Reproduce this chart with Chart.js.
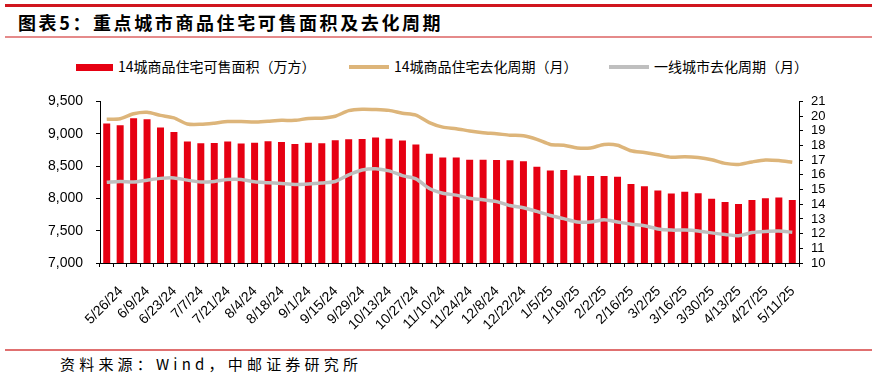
<!DOCTYPE html>
<html>
<head>
<meta charset="utf-8">
<script src="https://cdn.jsdelivr.net/npm/chart.js@4"></script>
<style>
  html, body { margin: 0; padding: 0; background: #fff; }
  #wrap { position: relative; width: 877px; height: 385px; overflow: hidden; font-family: "Noto Sans CJK SC", sans-serif; }
  .rule { position: absolute; left: 5px; width: 867px; }
  #title { position: absolute; left: 18px; top: 9px; font-size: 18px; font-weight: bold; letter-spacing: 2.6px; color: #000; line-height: 26px; }
  #legend { position: absolute; top: 56px; left: 0; width: 877px; height: 20px; font-size: 14px; color: #000; }
  .lg { position: absolute; top: 0; line-height: 20px; white-space: nowrap; }
  .sw { display: inline-block; vertical-align: middle; margin-right: 5px; position: relative; top: -1px; }
  #source { position: absolute; left: 60px; top: 353px; font-size: 15px; letter-spacing: 4.2px; color: #000; line-height: 22px; }
  #box { position: absolute; left: 0; top: 80px; width: 877px; height: 265px; }
</style>
</head>
<body>
<div id="wrap">
  <div class="rule" style="top:4px;height:3px;background:#D0161E;"></div>
  <div id="title">图表5：重点城市商品住宅可售面积及去化周期</div>
  <div class="rule" style="top:36px;height:2px;background:#E58A8A;"></div>
  <div id="legend">
    <div class="lg" style="left:76px;"><span class="sw" style="width:37px;height:7px;background:#E60012;"></span>14城商品住宅可售面积（万方）</div>
    <div class="lg" style="left:349px;"><span class="sw" style="width:40px;height:4px;background:#DDB57A;"></span>14城商品住宅去化周期（月）</div>
    <div class="lg" style="left:609px;"><span class="sw" style="width:40px;height:4px;background:#BFBFBF;"></span>一线城市去化周期（月）</div>
  </div>
  <div id="box"><canvas id="chart"></canvas></div>
  <div class="rule" style="top:349px;height:2px;background:#E07070;"></div>
  <div id="source">资料来源：Wind，中邮证券研究所</div>
</div>
<script>
const weeks = [
  '5/26/24','6/2/24','6/9/24','6/16/24','6/23/24','6/30/24','7/7/24','7/14/24','7/21/24','7/28/24',
  '8/4/24','8/11/24','8/18/24','8/25/24','9/1/24','9/8/24','9/15/24','9/22/24','9/29/24','10/6/24',
  '10/13/24','10/20/24','10/27/24','11/3/24','11/10/24','11/17/24','11/24/24','12/1/24','12/8/24','12/15/24',
  '12/22/24','12/29/24','1/5/25','1/12/25','1/19/25','1/26/25','2/2/25','2/9/25','2/16/25','2/23/25',
  '3/2/25','3/9/25','3/16/25','3/23/25','3/30/25','4/6/25','4/13/25','4/20/25','4/27/25','5/4/25',
  '5/11/25','5/18/25'
];

// 14城商品住宅可售面积（万方）
const areaStock = [
  9159, 9132, 9240, 9222, 9097, 9025, 8881, 8852, 8856, 8881,
  8848, 8862, 8885, 8871, 8842, 8862, 8852, 8900, 8914, 8920,
  8943, 8924, 8895, 8833, 8689, 8632, 8632, 8597, 8597, 8593,
  8589, 8574, 8488, 8430, 8439, 8353, 8344, 8344, 8334, 8223,
  8186, 8122, 8075, 8104, 8079, 7993, 7945, 7912, 7974, 8003,
  8013, 7974
];

// 14城商品住宅去化周期（月）
const cycle14 = [
  19.78, 19.82, 20.16, 20.26, 20.05, 19.88, 19.46, 19.44, 19.52, 19.63,
  19.63, 19.59, 19.65, 19.71, 19.71, 19.84, 19.86, 19.99, 20.37, 20.47,
  20.45, 20.39, 20.20, 20.07, 19.56, 19.25, 19.14, 18.99, 18.87, 18.80,
  18.70, 18.66, 18.42, 18.07, 18.02, 17.83, 17.83, 18.07, 18.02, 17.64,
  17.52, 17.37, 17.20, 17.24, 17.18, 17.03, 16.78, 16.71, 16.88, 17.01,
  16.97, 16.86
];

// 一线城市去化周期（月）
const cycleTier1 = [
  15.49, 15.55, 15.51, 15.64, 15.76, 15.79, 15.64, 15.51, 15.55, 15.68,
  15.68, 15.53, 15.47, 15.41, 15.35, 15.38, 15.45, 15.55, 16.00, 16.33,
  16.42, 16.27, 15.95, 15.73, 15.07, 14.75, 14.62, 14.41, 14.31, 14.18,
  13.91, 13.76, 13.51, 13.23, 13.02, 12.79, 12.79, 12.94, 12.79, 12.64,
  12.53, 12.32, 12.24, 12.24, 12.18, 12.05, 11.94, 11.86, 12.07, 12.15,
  12.18, 12.09
];

const leftTicks = [7000, 7500, 8000, 8500, 9000, 9500];
const rightTicks = [10, 11, 12, 13, 14, 15, 16, 17, 18, 19, 20, 21];

const tickFont = { family: '"Liberation Sans", Arial, sans-serif', size: 13 };

new Chart(document.getElementById('chart'), {
  type: 'bar',
  data: {
    labels: weeks,
    datasets: [
      {
        type: 'line',
        label: '14城商品住宅去化周期（月）',
        data: cycle14,
        yAxisID: 'y1',
        borderColor: '#DDB57A',
        borderWidth: 3.5,
        pointRadius: 0,
        tension: 0.25,
        order: 1
      },
      {
        type: 'line',
        label: '一线城市去化周期（月）',
        data: cycleTier1,
        yAxisID: 'y1',
        borderColor: '#BFBFBF',
        borderWidth: 3.5,
        pointRadius: 0,
        tension: 0.25,
        order: 2
      },
      {
        label: '14城商品住宅可售面积（万方）',
        data: areaStock,
        yAxisID: 'y',
        backgroundColor: '#E60012',
        barPercentage: 0.52,
        categoryPercentage: 1,
        order: 3
      }
    ]
  },
  options: {
    responsive: true,
    maintainAspectRatio: false,
    animation: false,
    layout: { padding: { top: 9, left: 0, right: 0, bottom: 0 } },
    plugins: {
      legend: { display: false },
      tooltip: { enabled: false }
    },
    scales: {
      x: {
        offset: true,
        border: { color: '#000', width: 1 },
        grid: { display: true, drawOnChartArea: false, drawTicks: true, tickLength: 4, color: '#000', offset: true },
        ticks: {
          autoSkip: false,
          minRotation: 45,
          maxRotation: 45,
          color: '#000',
          font: { family: tickFont.family, size: 14 },
          padding: 16,
          labelOffset: 14,
          callback: function (v, i) { return i % 2 === 0 ? weeks[i] : ''; }
        },
        afterFit: function (s) { s.height = 82; }
      },
      y: {
        position: 'left',
        min: 7000,
        max: 9500,
        border: { color: '#000', width: 1 },
        grid: { drawOnChartArea: false, drawTicks: true, tickLength: 4, color: '#000' },
        afterBuildTicks: function (s) { s.ticks = leftTicks.map(v => ({ value: v })); },
        ticks: {
          autoSkip: false,
          color: '#000',
          font: { family: tickFont.family, size: 14 },
          padding: 13,
          callback: v => v.toLocaleString('en-US')
        },
        afterFit: function (s) { s.width = 100; }
      },
      y1: {
        position: 'right',
        min: 10,
        max: 21,
        border: { color: '#000', width: 1 },
        grid: { drawOnChartArea: false, drawTicks: true, tickLength: 4, color: '#000' },
        afterBuildTicks: function (s) { s.ticks = rightTicks.map(v => ({ value: v })); },
        ticks: {
          autoSkip: false,
          color: '#000',
          font: tickFont,
          padding: 8
        },
        afterFit: function (s) { s.width = 78; }
      }
    }
  }
});
</script>
</body>
</html>
